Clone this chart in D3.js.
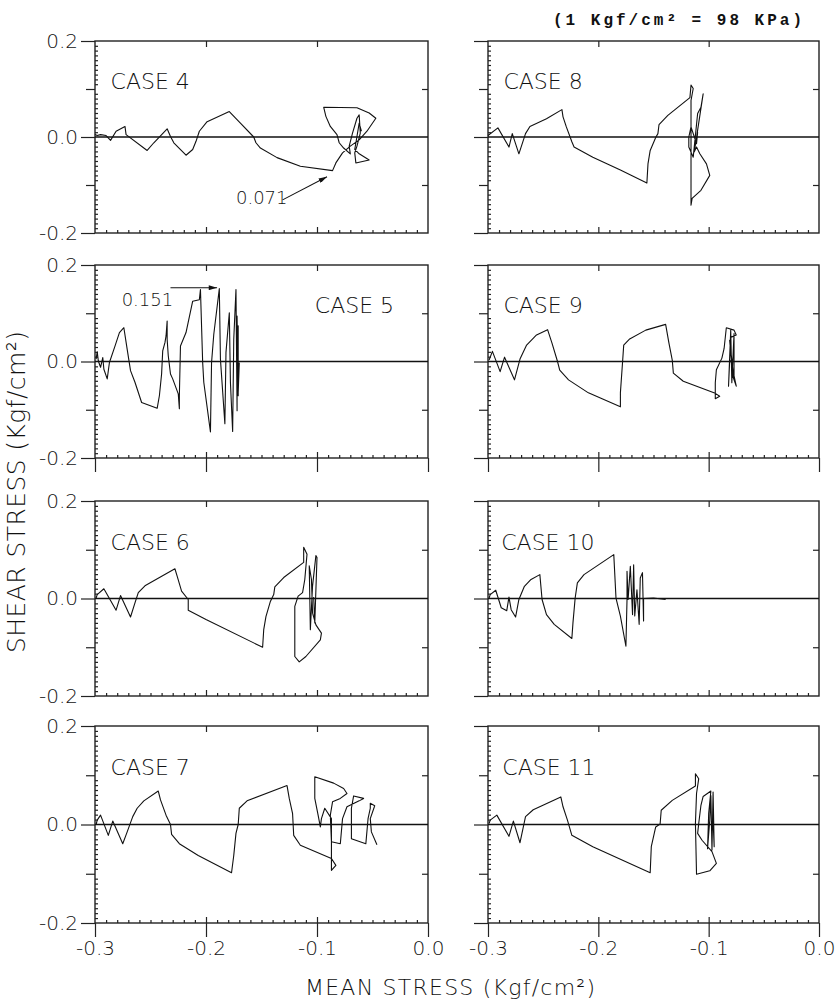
<!DOCTYPE html>
<html>
<head>
  <meta charset='utf-8'>
  <title>Stress paths</title>
  <script src='https://cdn.jsdelivr.net/npm/d3@7/dist/d3.min.js'></script>
  <style>
    body { margin: 0; background: #fff; }
    text { font-family: 'DejaVu Sans', sans-serif; font-weight: 200; fill: #111; }
  </style>
</head>
<body>
<script>
  // ---- data (mean stress, shear stress) in Kgf/cm2 ----
  const caseNames = ['CASE 4', 'CASE 5', 'CASE 6', 'CASE 7', 'CASE 8', 'CASE 9', 'CASE 10', 'CASE 11'];
  const labelX = [-0.286, -0.102, -0.286, -0.286, -0.286, -0.286, -0.288, -0.287];
  const labelY = [0.10, 0.10, 0.10, 0.10, 0.10, 0.10, 0.10, 0.10];
  const xTickValues = [-0.3, -0.2, -0.1, 0.0];
  const xTickLabels = ['-0.3', '-0.2', '-0.1', '0.0'];
  const yTickValues = [-0.2, 0.0, 0.2];
  const yTickLabels = ['-0.2', '0.0', '0.2'];

  const case4 = [[-0.300, 0.005], [-0.298, 0.003], [-0.295, 0.005], [-0.290, 0.003], [-0.286, -0.007], [-0.281, 0.012],
    [-0.273, 0.022], [-0.272, 0.005], [-0.253, -0.028], [-0.247, -0.012], [-0.235, 0.017], [-0.232, 0.001], [-0.229, -0.012],
    [-0.218, -0.038], [-0.212, -0.026], [-0.209, -0.009], [-0.206, 0.012], [-0.199, 0.032], [-0.179, 0.053], [-0.169, 0.029],
    [-0.157, 0.000], [-0.155, -0.012], [-0.151, -0.023], [-0.136, -0.043], [-0.115, -0.061], [-0.086, -0.070],
    [-0.083, -0.054], [-0.077, -0.033], [-0.070, -0.019], [-0.062, -0.006], [-0.055, 0.012], [-0.047, 0.039], [-0.053, 0.050],
    [-0.064, 0.061], [-0.094, 0.062], [-0.092, 0.043], [-0.088, 0.022], [-0.082, 0.005], [-0.080, -0.012], [-0.076, -0.023],
    [-0.070, -0.035], [-0.071, -0.019], [-0.068, 0.008], [-0.064, 0.039], [-0.062, 0.046], [-0.061, 0.008], [-0.064, -0.019],
    [-0.066, -0.033], [-0.065, -0.054], [-0.053, -0.048], [-0.062, -0.035], [-0.066, -0.026], [-0.064, 0.001], [-0.062, 0.029],
    [-0.060, 0.012]];

  const case5 = [[-0.299, 0.005], [-0.298, 0.020], [-0.297, 0.001], [-0.295, -0.012], [-0.293, 0.008], [-0.292, -0.016],
    [-0.289, -0.036], [-0.287, -0.002], [-0.282, 0.032], [-0.278, 0.060], [-0.274, 0.070], [-0.271, 0.025], [-0.268, -0.019],
    [-0.264, -0.043], [-0.258, -0.085], [-0.244, -0.097], [-0.242, -0.071], [-0.240, -0.026], [-0.239, 0.022], [-0.237, 0.039],
    [-0.236, 0.053], [-0.235, 0.084], [-0.235, 0.046], [-0.234, 0.012], [-0.232, -0.026], [-0.230, -0.036], [-0.225, -0.067],
    [-0.224, -0.098], [-0.224, -0.071], [-0.223, 0.032], [-0.218, 0.060], [-0.212, 0.125], [-0.206, 0.128], [-0.205, 0.149],
    [-0.203, -0.002], [-0.202, -0.043], [-0.196, -0.146], [-0.195, -0.002], [-0.193, 0.056], [-0.188, 0.151], [-0.187, 0.005],
    [-0.183, -0.129], [-0.182, 0.019], [-0.179, 0.101], [-0.178, -0.043], [-0.176, -0.145], [-0.175, 0.046], [-0.173, 0.149],
    [-0.172, -0.102], [-0.172, 0.094], [-0.171, -0.071], [-0.171, 0.074], [-0.171, -0.064], [-0.170, -0.002]];

  const case6 = [[-0.299, 0.001], [-0.298, 0.008], [-0.292, 0.020], [-0.281, -0.024], [-0.277, 0.006], [-0.268, -0.038],
    [-0.264, -0.009], [-0.261, 0.012], [-0.255, 0.026], [-0.228, 0.061], [-0.226, 0.046], [-0.222, 0.015], [-0.216, -0.002],
    [-0.216, -0.024], [-0.200, -0.043], [-0.149, -0.100], [-0.148, -0.064], [-0.146, -0.037], [-0.142, -0.006], [-0.139, 0.008],
    [-0.138, 0.024], [-0.130, 0.043], [-0.112, 0.074], [-0.112, 0.105], [-0.109, 0.091], [-0.111, 0.039], [-0.113, 0.012],
    [-0.117, 0.005], [-0.120, -0.016], [-0.120, -0.119], [-0.116, -0.130], [-0.110, -0.119], [-0.097, -0.085], [-0.096, -0.071],
    [-0.101, -0.054], [-0.104, -0.030], [-0.105, 0.039], [-0.107, 0.067], [-0.106, -0.064], [-0.104, 0.026], [-0.101, 0.088],
    [-0.100, 0.084], [-0.102, -0.050], [-0.103, 0.003]];

  const case7 = [[-0.299, 0.000], [-0.298, 0.009], [-0.295, 0.019], [-0.288, -0.022], [-0.284, 0.007], [-0.275, -0.039],
    [-0.271, -0.015], [-0.266, 0.016], [-0.262, 0.033], [-0.256, 0.048], [-0.243, 0.068], [-0.241, 0.050], [-0.236, 0.019],
    [-0.232, 0.000], [-0.231, -0.020], [-0.224, -0.039], [-0.207, -0.063], [-0.177, -0.098], [-0.175, -0.063], [-0.173, -0.018],
    [-0.171, 0.000], [-0.170, 0.033], [-0.163, 0.048], [-0.127, 0.079], [-0.125, 0.053], [-0.122, 0.022], [-0.121, -0.022],
    [-0.115, -0.042], [-0.087, -0.069], [-0.083, -0.083], [-0.087, -0.093], [-0.087, 0.012], [-0.093, 0.033], [-0.096, 0.012],
    [-0.097, -0.005], [-0.099, 0.019], [-0.102, 0.053], [-0.102, 0.097], [-0.085, 0.084], [-0.076, 0.073], [-0.073, 0.063],
    [-0.079, 0.053], [-0.086, 0.046], [-0.088, 0.019], [-0.087, -0.035], [-0.079, -0.039], [-0.077, 0.012], [-0.073, 0.036],
    [-0.062, 0.048], [-0.058, 0.053], [-0.067, 0.058], [-0.069, 0.033], [-0.069, -0.029], [-0.056, -0.039], [-0.054, 0.012],
    [-0.052, 0.033], [-0.052, 0.043], [-0.048, 0.038], [-0.052, 0.012], [-0.051, -0.015], [-0.046, -0.041]];

  const case8 = [[-0.300, 0.003], [-0.291, 0.019], [-0.281, -0.021], [-0.278, 0.007], [-0.272, -0.035], [-0.266, 0.007],
    [-0.262, 0.022], [-0.247, 0.038], [-0.233, 0.057], [-0.232, 0.042], [-0.229, 0.021], [-0.224, -0.010], [-0.222, -0.021],
    [-0.205, -0.042], [-0.180, -0.069], [-0.156, -0.096], [-0.155, -0.056], [-0.153, -0.028], [-0.148, -0.001], [-0.146, 0.007],
    [-0.145, 0.026], [-0.137, 0.045], [-0.117, 0.082], [-0.116, 0.108], [-0.114, 0.101], [-0.116, 0.076], [-0.116, -0.007],
    [-0.116, -0.062], [-0.116, -0.142], [-0.115, -0.128], [-0.107, -0.111], [-0.099, -0.080], [-0.102, -0.056], [-0.108, -0.035],
    [-0.111, -0.021], [-0.113, -0.031], [-0.105, 0.090], [-0.107, 0.062], [-0.110, 0.049], [-0.114, -0.042], [-0.118, -0.021],
    [-0.118, 0.000], [-0.116, 0.021], [-0.111, -0.014], [-0.110, 0.010]];

  const case9 = [[-0.299, 0.003], [-0.296, 0.021], [-0.289, -0.021], [-0.285, 0.009], [-0.276, -0.038], [-0.271, 0.005],
    [-0.265, 0.034], [-0.256, 0.055], [-0.246, 0.066], [-0.242, 0.038], [-0.237, 0.000], [-0.235, -0.018], [-0.227, -0.038],
    [-0.209, -0.065], [-0.180, -0.094], [-0.180, -0.065], [-0.178, 0.000], [-0.177, 0.034], [-0.172, 0.046], [-0.157, 0.065],
    [-0.139, 0.077], [-0.136, 0.038], [-0.133, 0.003], [-0.132, -0.024], [-0.123, -0.041], [-0.094, -0.066], [-0.090, -0.072],
    [-0.094, -0.077], [-0.094, -0.044], [-0.093, -0.017], [-0.088, 0.007], [-0.086, 0.027], [-0.084, 0.070], [-0.077, 0.065],
    [-0.075, 0.055], [-0.080, 0.050], [-0.082, -0.051], [-0.080, 0.065], [-0.079, -0.044], [-0.077, 0.058], [-0.077, -0.038],
    [-0.081, 0.044], [-0.078, -0.031], [-0.075, -0.051], [-0.080, 0.003]];

  const case10 = [[-0.299, 0.001], [-0.298, 0.008], [-0.293, 0.017], [-0.288, -0.019], [-0.283, -0.025], [-0.281, 0.003],
    [-0.279, -0.023], [-0.275, -0.038], [-0.272, -0.002], [-0.267, 0.025], [-0.261, 0.039], [-0.253, 0.049], [-0.251, -0.002],
    [-0.247, -0.033], [-0.240, -0.053], [-0.224, -0.082], [-0.223, -0.050], [-0.221, 0.001], [-0.219, 0.032], [-0.213, 0.049],
    [-0.186, 0.090], [-0.184, 0.001], [-0.180, -0.036], [-0.175, -0.098], [-0.174, -0.002], [-0.174, 0.056], [-0.173, -0.002],
    [-0.171, 0.066], [-0.169, -0.033], [-0.168, 0.069], [-0.167, -0.036], [-0.165, 0.018], [-0.163, -0.053], [-0.162, 0.042],
    [-0.160, 0.053], [-0.159, -0.046], [-0.159, 0.000], [-0.150, 0.001], [-0.139, -0.002]];

  const case11 = [[-0.299, 0.002], [-0.298, 0.009], [-0.292, 0.019], [-0.281, -0.024], [-0.277, 0.007], [-0.271, -0.037],
    [-0.266, 0.016], [-0.259, 0.030], [-0.234, 0.056], [-0.232, 0.036], [-0.228, 0.009], [-0.224, -0.022], [-0.205, -0.045],
    [-0.153, -0.098], [-0.152, -0.045], [-0.148, -0.005], [-0.144, 0.001], [-0.143, 0.029], [-0.133, 0.049], [-0.112, 0.078],
    [-0.112, 0.103], [-0.109, 0.093], [-0.111, 0.063], [-0.112, 0.002], [-0.111, -0.101], [-0.099, -0.094], [-0.093, -0.079],
    [-0.097, -0.055], [-0.106, -0.032], [-0.110, -0.018], [-0.109, 0.002], [-0.107, 0.039], [-0.105, 0.057], [-0.098, 0.068],
    [-0.100, 0.022], [-0.101, -0.049], [-0.099, 0.009], [-0.098, 0.059], [-0.097, -0.052], [-0.096, 0.066], [-0.095, -0.045],
    [-0.096, 0.009]];

  const paths = [case4, case5, case6, case7, case8, case9, case10, case11];

  // annotations: text anchor and arrow from / to (data units)
  const noteText = ['0.071', '0.151'];
  const notePanel = [0, 1];
  const noteAt = [[-0.173, -0.139], [-0.276, 0.115]];
  const arrowFrom = [[-0.131, -0.131], [-0.232, 0.153]];
  const arrowTo = [[-0.091, -0.083], [-0.190, 0.153]];

  // ---- layout ----
  const width = 835, height = 1002;
  const colX = [[95, 428], [488, 819]];
  const rowY = [[41, 233], [265, 458], [501, 696], [726, 923]];

  const svg = d3.select('body').append('svg')
    .attr('width', width).attr('height', height);

  svg.append('defs').append('marker')
    .attr('id', 'arrow')
    .attr('viewBox', '0 0 10 6')
    .attr('refX', 10).attr('refY', 3)
    .attr('markerWidth', 9).attr('markerHeight', 5)
    .attr('markerUnits', 'userSpaceOnUse')
    .attr('orient', 'auto')
    .append('path').attr('d', 'M0,0L10,3L0,6Z').attr('fill', '#111');

  const minorVals = d3.range(1, 40).filter(i => i % 10 !== 0).map(i => -0.2 + i * 0.01);
  const minorX = d3.range(1, 30).filter(i => i % 10 !== 0).map(i => -0.3 + i * 0.01);

  function clean(sel) {
    sel.select('.domain').remove();
    sel.selectAll('line').attr('stroke', '#222').attr('stroke-width', 1.2);
  }

  paths.forEach((data, i) => {
    const c = i < 4 ? 0 : 1, r = i % 4;
    const x = d3.scaleLinear().domain([-0.3, 0]).range(colX[c]);
    const y = d3.scaleLinear().domain([-0.2, 0.2]).range([rowY[r][1], rowY[r][0]]);
    const [x0, x1] = colX[c], [y0, y1] = rowY[r];
    const g = svg.append('g');

    // frame
    g.append('rect')
      .attr('x', x0).attr('y', y0).attr('width', x1 - x0).attr('height', y1 - y0)
      .attr('fill', 'none').attr('stroke', '#222').attr('stroke-width', 1.4);

    // left axis
    g.append('g').attr('transform', `translate(${x0},0)`)
      .call(d3.axisLeft(y).tickValues(minorVals).tickSize(-3).tickFormat('')).call(clean);
    g.append('g').attr('transform', `translate(${x0},0)`)
      .call(d3.axisLeft(y).tickValues([-0.1, 0.1]).tickSize(9).tickFormat('')).call(clean);
    const la = g.append('g').attr('transform', `translate(${x0},0)`)
      .call(d3.axisLeft(y).tickValues(yTickValues).tickSize(14).tickPadding(3)
        .tickFormat((d, k) => c === 0 ? yTickLabels[k] : ''))
      .call(clean);
    la.selectAll('text').attr('font-size', 20).attr('font-family', null);

    // right axis
    g.append('g').attr('transform', `translate(${x1},0)`)
      .call(d3.axisRight(y).tickValues([-0.1, 0.1]).tickSize(-6).tickFormat('')).call(clean);

    // top axis
    g.append('g').attr('transform', `translate(0,${y0})`)
      .call(d3.axisTop(x).tickValues([-0.2, -0.1]).tickSize(-6).tickFormat('')).call(clean);

    // bottom axis
    g.append('g').attr('transform', `translate(0,${y1})`)
      .call(d3.axisBottom(x).tickValues(minorX).tickSize(-3).tickFormat('')).call(clean);
    g.append('g').attr('transform', `translate(0,${y1})`)
      .call(d3.axisBottom(x).tickValues([-0.2, -0.1]).tickSize(-6).tickFormat('')).call(clean);
    if (r === 1 || r === 3) {
      const ba = g.append('g').attr('transform', `translate(0,${y1})`)
        .call(d3.axisBottom(x).tickValues(xTickValues).tickSize(14).tickPadding(4)
          .tickFormat((d, k) => r === 3 ? xTickLabels[k] : ''))
        .call(clean);
      ba.selectAll('text').attr('font-size', 20).attr('font-family', null);
    }

    // zero line
    g.append('line')
      .attr('x1', x(-0.3)).attr('x2', x(0)).attr('y1', y(0)).attr('y2', y(0))
      .attr('stroke', '#111').attr('stroke-width', 1.4);

    // stress path
    g.append('path').datum(data)
      .attr('d', d3.line().x(d => x(d[0])).y(d => y(d[1])))
      .attr('fill', 'none').attr('stroke', '#111').attr('stroke-width', 1.1)
      .attr('stroke-linejoin', 'round');

    // case label
    g.append('text')
      .attr('x', x(labelX[i])).attr('y', y(labelY[i]))
      .attr('font-size', 22)
      .text(caseNames[i]);

    // annotations
    notePanel.forEach((p, k) => {
      if (p !== i) return;
      g.append('text')
        .attr('x', x(noteAt[k][0])).attr('y', y(noteAt[k][1]))
        .attr('font-size', 18).text(noteText[k]);
      g.append('line')
        .attr('x1', x(arrowFrom[k][0])).attr('y1', y(arrowFrom[k][1]))
        .attr('x2', x(arrowTo[k][0])).attr('y2', y(arrowTo[k][1]))
        .attr('stroke', '#111').attr('stroke-width', 1.1)
        .attr('marker-end', 'url(#arrow)');
    });
  });

  // axis titles
  svg.append('text')
    .attr('transform', 'translate(25,492) rotate(-90)')
    .attr('text-anchor', 'middle').attr('font-size', 25)
    .attr('textLength', 322).attr('lengthAdjust', 'spacing')
    .text('SHEAR STRESS (Kgf/cm²)');

  svg.append('text')
    .attr('x', 305).attr('y', 995)
    .attr('font-size', 22)
    .attr('textLength', 290).attr('lengthAdjust', 'spacing')
    .text('MEAN STRESS (Kgf/cm²)');

  svg.append('text')
    .attr('x', 553).attr('y', 25)
    .attr('font-size', 16)
    .attr('textLength', 249).attr('lengthAdjust', 'spacing')
    .style('font-family', "'Liberation Mono', monospace").style('font-weight', 'bold')
    .text('(1 Kgf/cm² = 98 KPa)');
</script>
</body>
</html>
